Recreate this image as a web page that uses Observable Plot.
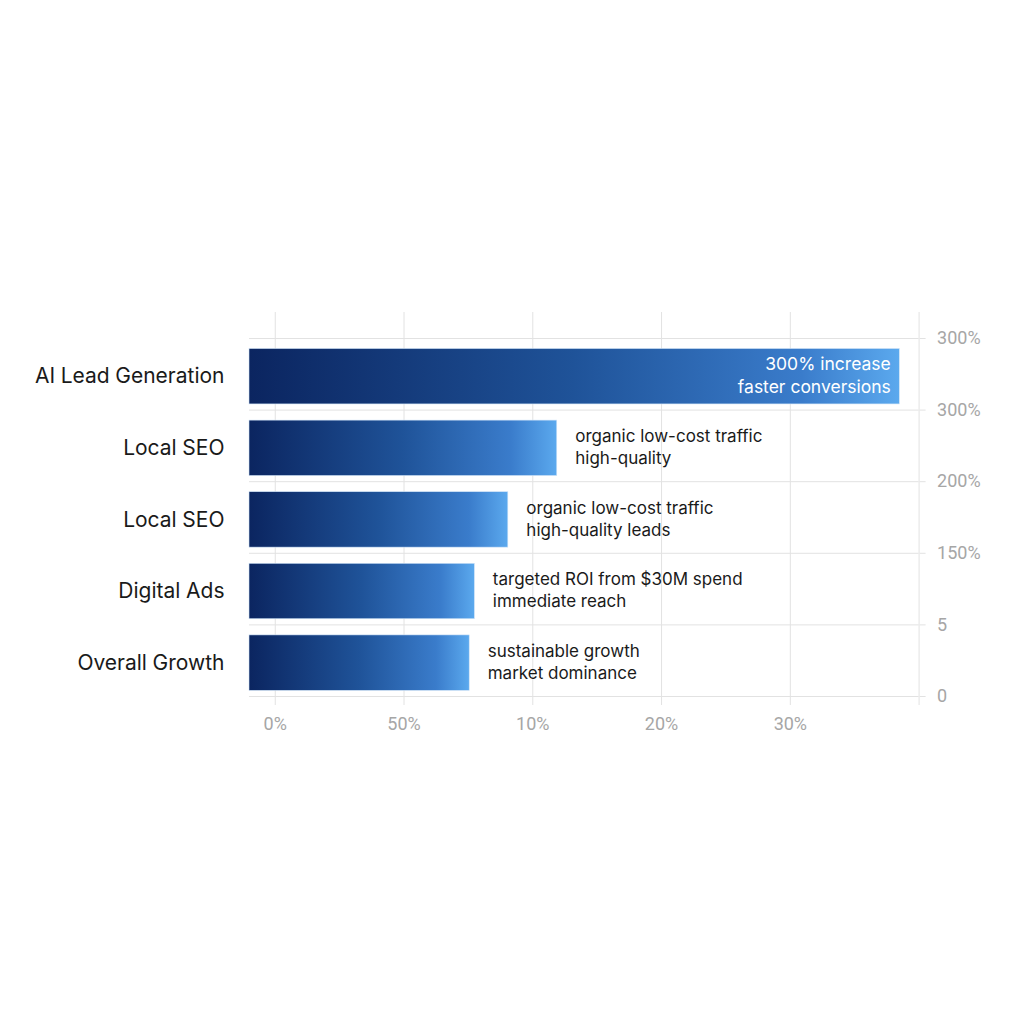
<!DOCTYPE html>
<html>
<head>
<meta charset="utf-8">
<script src="https://cdn.jsdelivr.net/npm/d3@7"></script>
<script src="https://cdn.jsdelivr.net/npm/@observablehq/plot@0.6"></script>
<style>
  html, body { margin: 0; padding: 0; background: #ffffff; }
  #chart { width: 1024px; height: 1024px; }
</style>
</head>
<body>
<div id="chart"></div>
<script>
// ---- data ----
const categories = ["AI Lead Generation", "Local SEO", "Local SEO", "Digital Ads", "Overall Growth"];
const values = [48.5, 21.9, 18.1, 15.5, 15.1];           // bar end, in bottom-axis units
const notesLine1 = ["300% increase", "organic low-cost traffic", "organic low-cost traffic", "targeted ROI from $30M spend", "sustainable growth"];
const notesLine2 = ["faster conversions", "high-quality", "high-quality leads", "immediate reach", "market dominance"];
const xTicks = [0, 10, 20, 30, 40, 50];
const xTickLabels = ["0%", "50%", "10%", "20%", "30%", ""];
const rightTicks = [0, 1, 2, 3, 4, 5];
const rightTickLabels = ["0", "5", "150%", "200%", "300%", "300%"];
const xStart = -2;

const n = categories.length;
const padBottom = 0.079, padTop = 0.147;
const shift = (padTop - padBottom) / 2;
const rows = categories.map((c, i) => ({
  cat: c,
  pos: n - 1 - i,
  value: values[i],
  note: notesLine1[i] + "\n" + notesLine2[i],
  inside: i === 0
}));

const chart = Plot.plot({
  width: 1024,
  height: 1024,
  marginLeft: 249,
  marginRight: 105.4,
  marginTop: 312,
  marginBottom: 319,
  style: { background: "transparent", fontFamily: "Inter, sans-serif" },
  x: { domain: [xStart, 50], axis: null },
  y: { domain: [-0.126, 5.363], axis: null },
  marks: [
    Plot.gridX(xTicks, { stroke: "#e2e2e2", strokeOpacity: 1 }),
    Plot.gridY(rightTicks, { stroke: "#e2e2e2", strokeOpacity: 1 }),
    Plot.axisX({ ticks: xTicks, tickFormat: (d, i) => xTickLabels[i], tickSize: 0, tickPadding: 12,
                 fontSize: 18, fill: "#a6a6a6", label: null, fontFamily: "Roboto, sans-serif" }),
    Plot.axisY({ anchor: "right", ticks: rightTicks, tickFormat: (d, i) => rightTickLabels[i],
                 tickSize: 6, tickPadding: 12, stroke: "#e2e2e2", fontSize: 18, fill: "#a6a6a6",
                 label: null, fontFamily: "Roboto, sans-serif" }),
    Plot.axisY({ anchor: "left", ticks: rows.map(d => d.pos + 0.5 - shift),
                 tickFormat: (d, i) => categories[i],
                 tickSize: 0, tickPadding: 25, fontSize: 21, fill: "#1a1a1a", label: null }),
    Plot.rectX(rows, { x1: xStart, x2: "value", y1: d => d.pos + padBottom, y2: d => d.pos + 1 - padTop,
                       fill: "url(#barGrad)", stroke: "#cfe3f7", strokeWidth: 0.6 }),
    Plot.text(rows.filter(d => !d.inside), { x: "value", y: d => d.pos + 0.5, text: "note", dx: 18,
                       textAnchor: "start", lineHeight: 1.3, fontSize: 17, fill: "#1a1a1a" }),
    Plot.text(rows.filter(d => d.inside), { x: "value", y: d => d.pos + 0.5, text: "note", dx: -9,
                       textAnchor: "end", lineHeight: 1.3, fontSize: 17.5, fill: "#ffffff" })
  ]
});

// gradient definition used by the bars
const svgNS = "http://www.w3.org/2000/svg";
const defs = document.createElementNS(svgNS, "defs");
const grad = document.createElementNS(svgNS, "linearGradient");
grad.setAttribute("id", "barGrad");
grad.setAttribute("x1", "0"); grad.setAttribute("x2", "1");
grad.setAttribute("y1", "0"); grad.setAttribute("y2", "0");
[["0", "#0b2560"], ["0.5", "#1f5399"], ["0.85", "#3a7ccb"], ["1", "#5ba9ee"]].forEach(([o, c]) => {
  const s = document.createElementNS(svgNS, "stop");
  s.setAttribute("offset", o); s.setAttribute("stop-color", c);
  grad.appendChild(s);
});
defs.appendChild(grad);
chart.insertBefore(defs, chart.firstChild);

document.getElementById("chart").appendChild(chart);
</script>
</body>
</html>
